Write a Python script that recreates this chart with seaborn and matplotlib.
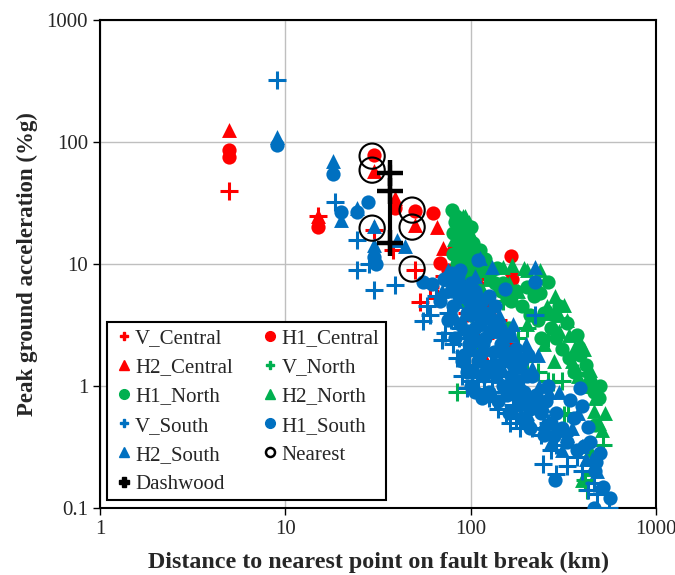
import numpy as np
import pandas as pd
import matplotlib
matplotlib.use('Agg')
import matplotlib.pyplot as plt
import seaborn as sns
from matplotlib.lines import Line2D

# ---- data (distance km, PGA %g) ----
v_central_x = [5, 15, 30, 50, 38, 53, 66, 60, 72, 85, 95, 110, 120, 140, 160, 90, 105, 130]
v_central_y = [40, 25, 19, 9, 13, 4.9, 5.3, 6.5, 8, 6, 4, 3, 2.5, 3.5, 2.2, 9, 7, 5]

h1_central_x = [5, 5, 15, 30, 39, 50, 63, 68, 75, 85, 165, 167, 120, 140, 100, 110]
h1_central_y = [86, 75, 20, 78, 28.8, 27, 26, 10.2, 9, 11, 11.6, 7.5, 5, 3, 6, 8]

h2_central_x = [5, 15, 30, 39, 50, 66, 71, 80, 90, 120, 167, 115, 150, 130, 100]
h2_central_y = [125, 25, 58, 34.7, 21, 20, 13.5, 15, 12, 9, 9.3, 1.86, 2.5, 4, 7]

v_north_x = [84, 110, 130, 150, 180, 200, 230, 262, 277, 312, 318, 335, 376, 376, 413, 425, 516, 90, 100, 120,
             200, 260]
v_north_y = [0.89, 2.0, 3.0, 5.0, 2.5, 1.6, 1.3, 1.1, 1.07, 1.1, 0.58, 0.6, 1.28, 1.23, 0.17, 0.14, 0.33, 6, 4, 8,
             3, 2.5]

h1_north_x = [79, 82, 85, 88, 80, 92, 95, 85, 100, 105, 115, 125, 138, 135, 150, 157, 175, 200, 220, 236, 262,
              280, 300, 330, 376, 420, 490, 500, 470, 90, 110, 160, 240,
              80, 83, 86, 90, 93, 96, 84, 89, 98, 103, 108, 112, 120, 130, 145, 165, 190, 210, 230, 250, 270,
              290, 310, 340, 360, 390, 440, 460]
h1_north_y = [27.7, 22, 18, 15, 12, 10, 8, 7, 20, 12, 9, 8.5, 9.3, 7, 7, 5.3, 6, 6.5, 5.5, 5.8, 7.1,
              3.8, 4.5, 3.3, 2.6, 1.5, 0.8, 1.0, 0.48, 5, 4, 3, 2.5,
              18, 25, 14, 16, 20, 13, 10, 9, 9.5, 15, 10, 13, 11, 9, 6, 5, 4.5, 3.8, 3.5, 4, 3,
              2.5, 2, 1.7, 1.3, 1.8, 1.1, 0.9]

h2_north_x = [91, 88, 93, 95, 85, 100, 80, 105, 110, 118, 150, 167, 195, 200, 237, 215, 258, 285, 320, 330,
              300, 366, 390, 410, 440, 460, 510, 530, 450, 400, 100, 130, 200, 250, 280, 97, 87,
              81, 84, 87, 90, 94, 98, 102, 107, 112, 125, 140, 160, 180, 230, 270, 300, 340, 350, 380, 420,
              470, 495, 440]
h2_north_y = [25, 22, 25, 15, 13, 11, 9, 8.5, 7, 5.8, 9.5, 9.8, 9.3, 9, 9, 7, 4.5, 5.5, 4.6, 3.5,
              2.8, 2.1, 2.3, 2.0, 1.35, 0.63, 0.44, 0.6, 0.21, 0.17, 4, 3, 3.2, 2.2, 1.6, 18, 17,
              16, 20, 12, 14, 11, 22, 17, 13, 10, 7.5, 6.5, 7, 6, 6.5, 4, 3.8, 2.6, 1.6, 1.2, 1.0,
              0.8, 0.5, 0.3]

v_south_x = [9, 18.5, 24.4, 24.4, 28.3, 30, 39, 55, 58, 60, 65, 73, 75, 80, 84, 88, 90, 96, 100, 110, 115, 125,
             130, 140, 150, 163, 170, 185, 200, 222, 246, 260, 290, 290, 320, 376, 430, 460, 560, 70, 105, 120,
             78, 86, 92, 98, 102, 108, 118, 128, 135, 145, 155, 175, 195, 215, 240, 270, 330, 400, 480]
v_south_y = [322, 32, 15.7, 8.9, 10.1, 6.1, 6.7, 3.4, 4.5, 3.8, 5.5, 2.7, 4, 2.2, 1.7, 3, 1.2, 0.96, 2.5, 0.92, 1.5,
             0.8, 1.1, 0.65, 0.9, 0.5, 0.7, 0.45, 0.6, 3.8, 0.23, 0.5, 0.19, 0.33, 0.4, 0.26, 0.14, 0.16, 0.1, 2.4,
             1.8, 1.3,
             3.5, 2.5, 1.9, 1.5, 1.1, 1.3, 0.95, 1.6, 0.75, 1.2, 0.6, 0.55, 0.75, 0.45, 0.4, 0.3, 0.22, 0.2, 0.13]

h1_south_x = [9, 18, 20, 24.5, 28, 30, 31, 55, 62, 68, 72, 75, 78, 80, 82, 85, 88, 90, 92, 95, 98, 100, 103, 106,
              110, 112, 115, 118, 120, 125, 130, 135, 140, 145, 150, 154, 160, 170, 180, 190, 200, 210, 222, 230,
              250, 260, 280, 285, 345, 390, 400, 430, 475, 460, 565,
              78, 82, 86, 88, 92, 95, 98, 100, 102, 105, 108, 110, 113, 116, 120, 123, 126, 130, 133, 136, 140,
              144, 148, 152, 156, 160, 165, 170, 175, 180, 185, 190, 195, 200, 205, 210, 215, 225, 240, 255, 270,
              290, 310, 330, 360, 375, 410, 440, 470, 520, 500, 90, 95, 100, 105, 115]
h1_south_y = [95, 55, 26.6, 26.6, 32, 11.5, 10, 7.1, 6.8, 5, 7.5, 3.5, 6, 4.5, 2.5, 8, 3.2, 5.5, 1.8, 4, 2.2, 7,
              1.3, 3, 10.8, 1.8, 5, 1.2, 2.5, 0.9, 3.5, 1.5, 0.75, 2.2, 1.0, 6.2, 0.6, 1.5, 0.8, 0.55, 1.2, 0.45,
              7.1, 0.7, 0.4, 1.0, 0.39, 0.17, 0.77, 0.97, 0.69, 0.46, 0.24, 0.1, 0.12,
              8.5, 7, 5.5, 9, 6.5, 2.8, 5, 3.8, 2.6, 6, 4.2, 1.6, 3.5, 2.2, 4, 1.4, 5.5, 2.8, 1.9, 4.5, 1.3,
              3, 2, 1.6, 0.85, 2.6, 1.2, 0.9, 2, 1.1, 0.7, 1.6, 0.9, 0.5, 1.8, 0.65, 1.2, 0.85, 0.6, 0.75, 0.5,
              0.6, 0.45, 0.35, 0.55, 0.3, 0.32, 0.35, 0.2, 0.15, 0.28, 1.6, 1.3, 1.0, 0.9, 0.8]

h2_south_x = [9, 18, 20, 24.4, 30, 30, 40, 44, 70, 75, 80, 85, 90, 95, 100, 105, 112, 115, 120, 125, 130, 140,
              150, 160, 170, 185, 190, 200, 215, 222, 230, 250, 270, 290, 300, 330, 380, 420, 480,
              76, 83, 87, 93, 97, 101, 104, 108, 111, 117, 121, 127, 132, 138, 142, 147, 155, 162, 168, 178,
              188, 198, 206, 235, 245, 265, 310, 350, 400, 450]
h2_south_y = [110, 70, 23, 28.9, 20.5, 14.4, 15.8, 14, 6, 9, 4, 7, 3, 5.5, 2, 8, 11.2, 4.5, 1.5, 3, 9.5, 1.2,
              2.5, 1.8, 3.2, 1.43, 1.5, 0.6, 1.4, 9.4, 1.8, 0.5, 0.35, 0.44, 0.9, 0.4, 0.6, 0.25, 0.2,
              7.5, 5, 8, 4, 6.5, 3, 4.8, 2.4, 5.8, 3.2, 2, 4.2, 1.6, 2.8, 3.8, 1.4, 2.1, 1.1, 2.6, 1.9,
              1.0, 2.2, 0.8, 1.0, 0.7, 0.9, 0.3, 0.45, 0.32, 0.25]

nearest_x = [29.4, 29.4, 29.4, 48.3, 48.3, 48.3]
nearest_y = [76.7, 58.9, 19.7, 27.7, 20.1, 9.1]

dashwood_x = [36.7, 36.7, 36.7]
dashwood_y = [55.7, 39.6, 14.9]
dashwood_range = [12.6, 65]

RED, GREEN, BLUE = '#FF0000', '#00B050', '#0070C0'

series = [
    ('V_Central', v_central_x, v_central_y, RED, '+'),
    ('H1_Central', h1_central_x, h1_central_y, RED, 'o'),
    ('H2_Central', h2_central_x, h2_central_y, RED, '^'),
    ('V_North', v_north_x, v_north_y, GREEN, '+'),
    ('H1_North', h1_north_x, h1_north_y, GREEN, 'o'),
    ('H2_North', h2_north_x, h2_north_y, GREEN, '^'),
    ('V_South', v_south_x, v_south_y, BLUE, '+'),
    ('H1_South', h1_south_x, h1_south_y, BLUE, 'o'),
    ('H2_South', h2_south_x, h2_south_y, BLUE, '^'),
]

sns.set_style('white')
plt.rcParams['font.family'] = ['Liberation Serif', 'DejaVu Serif']

fig = plt.figure(figsize=(6.75, 5.75), dpi=100)
ax = fig.add_axes([0.148, 0.1165, 0.824, 0.8485])

handles = {}
for name, xs, ys, col, mk in series:
    df = pd.DataFrame({'x': xs, 'y': ys})
    if mk == '+':
        sns.scatterplot(data=df, x='x', y='y', marker='+', s=170, color=col, linewidth=2.2, ax=ax, zorder=3)
        handles[name] = Line2D([], [], ls='', marker='P', color=col, markersize=6)
    elif mk == 'o':
        sns.scatterplot(data=df, x='x', y='y', marker='o', s=105, color=col, edgecolor=col, linewidth=0, ax=ax, zorder=3)
        handles[name] = Line2D([], [], ls='', marker='o', color=col, markersize=7)
    else:
        sns.scatterplot(data=df, x='x', y='y', marker='^', s=115, color=col, edgecolor=col, linewidth=0, ax=ax, zorder=3)
        handles[name] = Line2D([], [], ls='', marker='^', color=col, markersize=7)

near_df = pd.DataFrame({'x': nearest_x, 'y': nearest_y})
sns.scatterplot(data=near_df, x='x', y='y', marker='o', s=330, facecolor='none', edgecolor='black',
                linewidth=1.5, ax=ax, zorder=4)
handles['Nearest'] = Line2D([], [], ls='', marker='o', markerfacecolor='none', markeredgecolor='black',
                            markeredgewidth=1.8, markersize=6.5)

ax.plot([dashwood_x[0], dashwood_x[0]], dashwood_range, color='black', lw=3, zorder=5)
dash_df = pd.DataFrame({'x': dashwood_x, 'y': dashwood_y})
sns.scatterplot(data=dash_df, x='x', y='y', marker='+', s=330, color='black', linewidth=3.2, ax=ax, zorder=5)
handles['Dashwood'] = Line2D([], [], ls='', marker='P', color='black', markersize=7)

ax.set_xscale('log')
ax.set_yscale('log')
ax.set_xlim(1, 1000)
ax.set_ylim(0.1, 1000)
ax.set_xticks([1, 10, 100, 1000])
ax.set_xticklabels(['1', '10', '100', '1000'])
ax.set_yticks([0.1, 1, 10, 100, 1000])
ax.set_yticklabels(['0.1', '1', '10', '100', '1000'])
ax.minorticks_off()
ax.tick_params(axis='both', which='major', direction='out', length=5, width=1, labelsize=15,
               bottom=True, left=True, color='black')
ax.grid(True, which='major', color='#BFBFBF', lw=1)
for sp in ax.spines.values():
    sp.set_color('black')
    sp.set_linewidth(1.5)
ax.set_xlabel('Distance to nearest point on fault break (km)', fontsize=17.3, fontweight='bold', labelpad=9)
ax.set_ylabel('Peak ground acceleration (%g)', fontsize=16.5, fontweight='bold', labelpad=6)

order = ['V_Central', 'H2_Central', 'H1_North', 'V_South', 'H2_South', 'Dashwood',
         'H1_Central', 'V_North', 'H2_North', 'H1_South', 'Nearest']
leg = ax.legend([handles[k] for k in order], order, ncol=2, loc='lower left', bbox_to_anchor=(0.0126, 0.016),
                borderaxespad=0, fontsize=15, frameon=True, fancybox=False, edgecolor='black', framealpha=1,
                handletextpad=0.05, handlelength=1.0, columnspacing=1.3, labelspacing=0.46, borderpad=0.3)
leg.get_frame().set_linewidth(1.5)

fig.savefig('out.png', dpi=100)
